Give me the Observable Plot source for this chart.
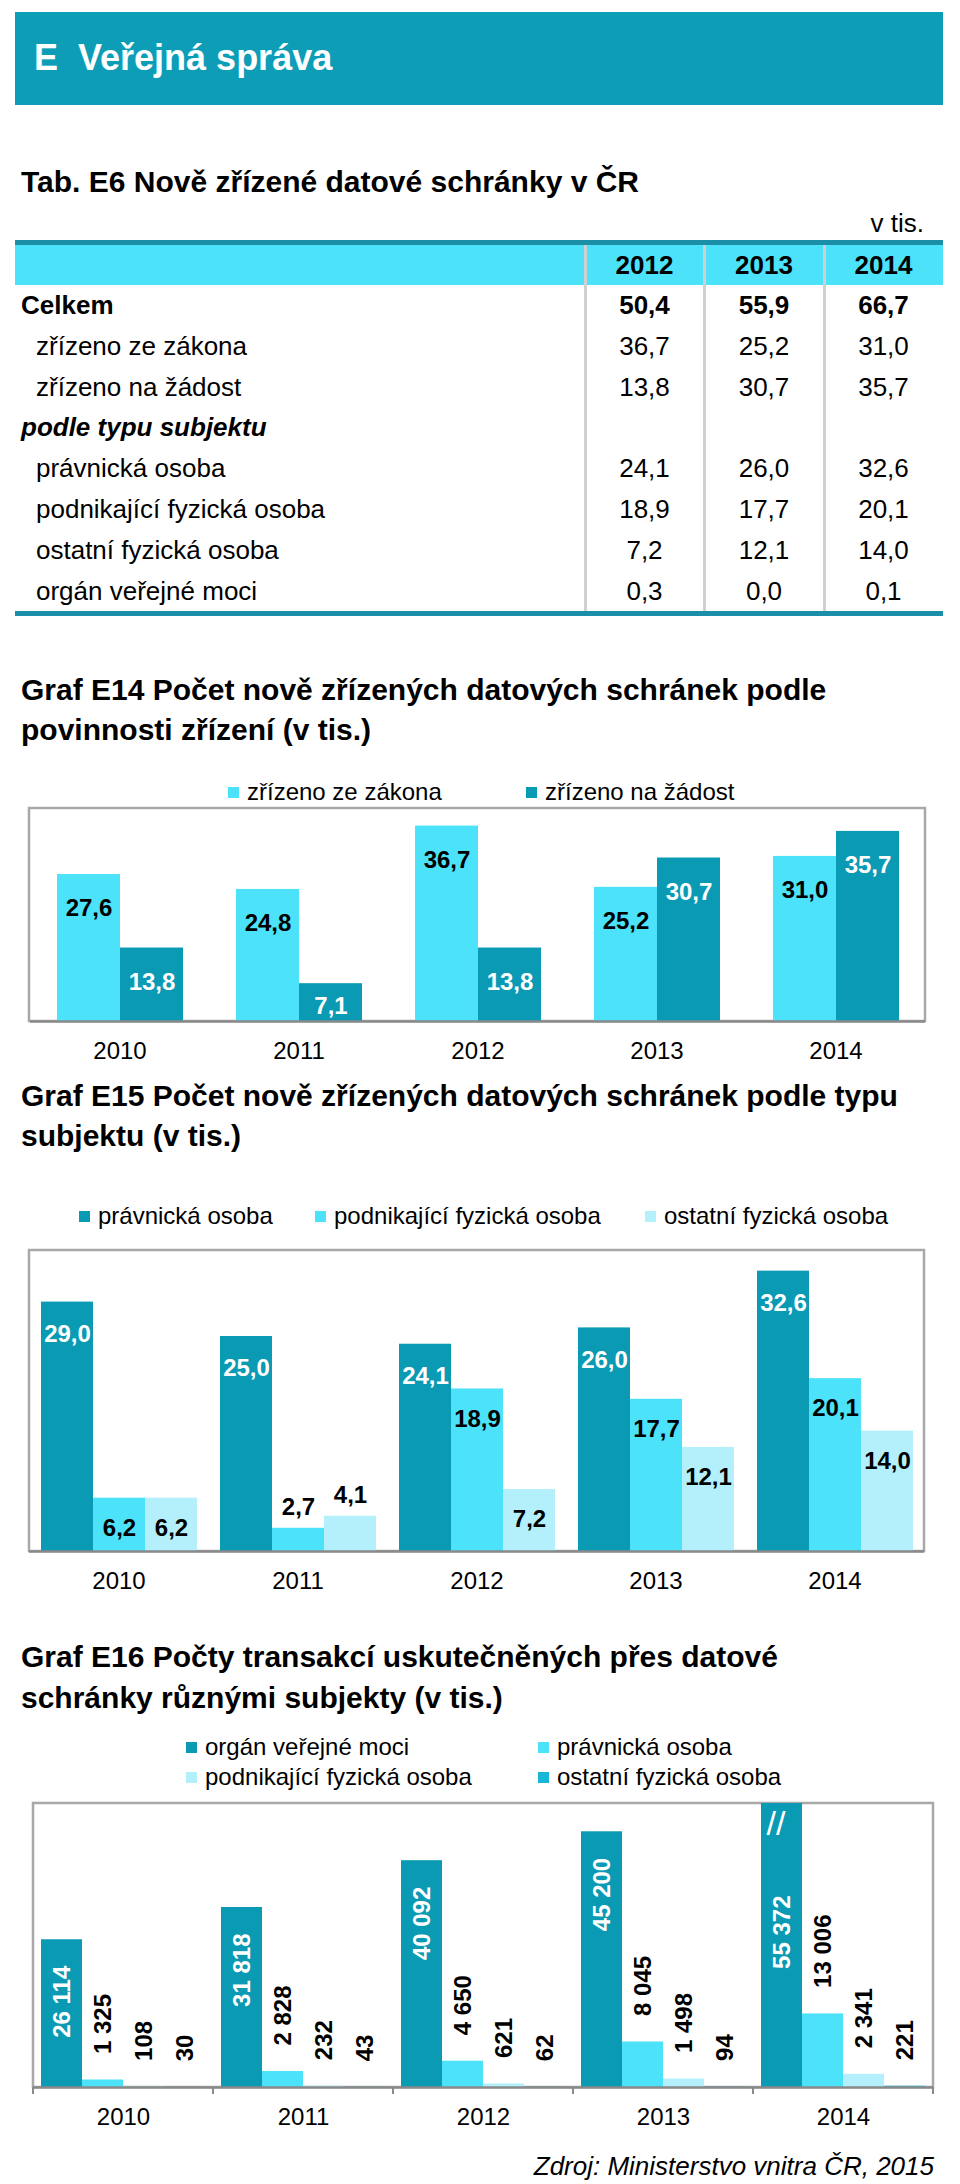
<!DOCTYPE html>
<html>
<head>
<meta charset="utf-8">
<script src="https://cdn.jsdelivr.net/npm/d3@7"></script>
<script src="https://cdn.jsdelivr.net/npm/@observablehq/plot@0.6"></script>
<style>
  html, body { margin: 0; padding: 0; background: #fff; }
  body { width: 960px; height: 2184px; position: relative; overflow: hidden;
         font-family: "Liberation Sans", Arial, Helvetica, sans-serif; color: #000; }
  .abs { position: absolute; white-space: pre; }
  .title { font-weight: bold; font-size: 30px; line-height: 40px; left: 21px; }
  .legitem { position: absolute; font-size: 24px; line-height: 30px; height: 30px; display: flex; align-items: center; white-space: pre; }
  .legitem i { display: inline-block; width: 11px; height: 11px; margin-right: 8px; }
  .chart { position: absolute; left: 0; }
</style>
</head>
<body>

<div class="abs" style="left:15px;top:12px;width:928px;height:93px;background:#0E9DB7;"></div>
<div class="abs" style="left:34px;top:36px;font-size:36px;line-height:44px;font-weight:bold;color:#fff;">E  Veřejná správa</div>

<div class="abs title" style="top:162px;">Tab. E6 Nově zřízené datové schránky v ČR</div>
<div class="abs" style="right:36px;top:208px;font-size:26px;line-height:30px;">v tis.</div>

<div id="tab" class="abs" style="left:15px;top:240px;width:928px;height:376px;"></div>

<div class="abs title" style="top:670px;">Graf E14 Počet nově zřízených datových schránek podle
povinnosti zřízení (v tis.)</div>
<div id="leg14"></div>
<div id="c14" class="chart" style="top:800px;"></div>

<div class="abs title" style="top:1076px;">Graf E15 Počet nově zřízených datových schránek podle typu
subjektu (v tis.)</div>
<div id="leg15"></div>
<div id="c15" class="chart" style="top:1242px;"></div>

<div class="abs title" style="top:1636px;line-height:41px;">Graf E16 Počty transakcí uskutečněných přes datové
schránky různými subjekty (v tis.)</div>
<div id="leg16"></div>
<div id="c16" class="chart" style="top:1795px;"></div>

<div class="abs" style="right:26px;top:2150px;font-size:26px;line-height:32px;font-style:italic;">Zdroj: Ministerstvo vnitra ČR, 2015</div>

<script>
// ---------------- DATA ----------------
// Table E6
const tabYears = ["2012", "2013", "2014"];
const tabLabels = ["Celkem", "zřízeno ze zákona", "zřízeno na žádost", "podle typu subjektu",
  "právnická osoba", "podnikající fyzická osoba", "ostatní fyzická osoba", "orgán veřejné moci"];
const tabKinds = ["total", "item", "item", "section", "item", "item", "item", "item"];
const tabValues = [
  [50.4, 55.9, 66.7],
  [36.7, 25.2, 31.0],
  [13.8, 30.7, 35.7],
  null,
  [24.1, 26.0, 32.6],
  [18.9, 17.7, 20.1],
  [7.2, 12.1, 14.0],
  [0.3, 0.0, 0.1]
];

// Charts
const years = ["2010", "2011", "2012", "2013", "2014"];

const e14Series = ["zřízeno ze zákona", "zřízeno na žádost"];
const e14Zakon  = [27.6, 24.8, 36.7, 25.2, 31.0];
const e14Zadost = [13.8, 7.1, 13.8, 30.7, 35.7];

const e15Series = ["právnická osoba", "podnikající fyzická osoba", "ostatní fyzická osoba"];
const e15Pravnicka    = [29.0, 25.0, 24.1, 26.0, 32.6];
const e15Podnikajici  = [6.2, 2.7, 18.9, 17.7, 20.1];
const e15Ostatni      = [6.2, 4.1, 7.2, 12.1, 14.0];

const e16Series = ["orgán veřejné moci", "právnická osoba", "podnikající fyzická osoba", "ostatní fyzická osoba"];
const e16Organ       = [26114, 31818, 40092, 45200, 55372];
const e16Pravnicka   = [1325, 2828, 4650, 8045, 13006];
const e16Podnikajici = [108, 232, 621, 1498, 2341];
const e16Ostatni     = [30, 43, 62, 94, 221];

// ---------------- STYLE ----------------
const FONT = '"Liberation Sans", Arial, Helvetica, sans-serif';
const TEAL = "#0A9AB4";
const CYAN = "#4BE2FA";
const PALE = "#B3F0FB";
const MID  = "#19B7D7";
const FRAME = "#A8A8A8";
const AXIS = "#8A8A8A";

const comma1 = v => d3.format(".1f")(v).replace(".", ",");
const loc = d3.formatLocale({decimal: ",", thousands: " ", grouping: [3], currency: ["", ""]});
const thousands = loc.format(",d");

// ---------------- TABLE ----------------
(function buildTable() {
  const tab = document.getElementById("tab");
  const W = 928;
  const colEdges = [570, 689, 809, W];
  const add = (html, css) => { const d = document.createElement("div"); d.style.cssText = css; d.innerHTML = html; tab.appendChild(d); return d; };
  add("", `position:absolute;left:0;top:0;width:${W}px;height:5px;background:#1A8FA7;`);
  add("", `position:absolute;left:0;top:5px;width:${W}px;height:40px;background:${CYAN};`);
  add("", `position:absolute;left:0;top:371px;width:${W}px;height:5px;background:#1A8FA7;`);
  for (let i = 0; i < 3; i++) {
    add("", `position:absolute;left:${colEdges[i] - 1}px;top:5px;width:3px;height:366px;background:#D0D0D0;`);
  }
  const colCenter = i => (colEdges[i] + colEdges[i + 1]) / 2;
  tabYears.forEach((y, i) => {
    add(y, `position:absolute;top:9px;left:${colCenter(i) - 60}px;width:120px;text-align:center;font-size:26px;line-height:32px;font-weight:bold;`);
  });
  tabLabels.forEach((lab, r) => {
    const cy = 65 + r * 40.8;
    const kind = tabKinds[r];
    const left = kind === "item" ? 21 : 6;
    const fw = kind === "item" ? "normal" : "bold";
    const fs = kind === "section" ? "italic" : "normal";
    add(lab, `position:absolute;left:${left}px;top:${cy - 16}px;font-size:26px;line-height:32px;font-weight:${fw};font-style:${fs};white-space:pre;`);
    if (tabValues[r]) {
      tabValues[r].forEach((v, i) => {
        add(comma1(v), `position:absolute;top:${cy - 16}px;left:${colCenter(i) - 60}px;width:120px;text-align:center;font-size:26px;line-height:32px;font-weight:${kind === "total" ? "bold" : "normal"};`);
      });
    }
  });
})();

// ---------------- LEGENDS ----------------
function legend(containerId, items) {
  const c = document.getElementById(containerId);
  items.forEach(({label, color, left, cy}) => {
    const d = document.createElement("div");
    d.className = "legitem";
    d.style.left = left + "px";
    d.style.top = (cy - 15) + "px";
    d.innerHTML = `<i style="background:${color}"></i><span>${label}</span>`;
    c.appendChild(d);
  });
}
legend("leg14", [
  {label: e14Series[0], color: CYAN, left: 228, cy: 792},
  {label: e14Series[1], color: TEAL, left: 526, cy: 792}
]);
legend("leg15", [
  {label: e15Series[0], color: TEAL, left: 79, cy: 1216},
  {label: e15Series[1], color: CYAN, left: 315, cy: 1216},
  {label: e15Series[2], color: PALE, left: 645, cy: 1216}
]);
legend("leg16", [
  {label: e16Series[0], color: TEAL, left: 186, cy: 1747},
  {label: e16Series[1], color: CYAN, left: 538, cy: 1747},
  {label: e16Series[2], color: PALE, left: 186, cy: 1777},
  {label: e16Series[3], color: MID,  left: 538, cy: 1777}
]);

// ---------------- HELPERS ----------------
function addFrame(svg, L) {
  const s = d3.select(svg);
  s.insert("rect", ":first-child")
    .attr("x", L.ml).attr("y", L.mt)
    .attr("width", L.W - L.ml - L.mr).attr("height", L.H - L.mt - L.mb)
    .attr("fill", "none").attr("stroke", FRAME).attr("stroke-width", 2.5);
}
function baseStyle() {
  return {fontFamily: FONT, fontSize: "24px", color: "#000", background: "none", overflow: "visible"};
}

// ---------------- E14 ----------------
const e14Data = years.flatMap((year, i) => [
  {year, series: e14Series[0], value: e14Zakon[i]},
  {year, series: e14Series[1], value: e14Zadost[i]}
]);
const L14 = {W: 960, H: 265, ml: 29, mr: 35, mt: 8, mb: 44};
const c14 = Plot.plot({
  width: L14.W, height: L14.H,
  marginLeft: L14.ml, marginRight: L14.mr, marginTop: L14.mt, marginBottom: L14.mb,
  style: baseStyle(),
  facet: {data: e14Data, x: "year"},
  fx: {domain: years, padding: 0, axis: "bottom", label: null, tickSize: 0, tickPadding: 20},
  x: {domain: e14Series, paddingInner: 0, paddingOuter: 0.4, axis: null},
  y: {domain: [0, 40], axis: null},
  color: {domain: e14Series, range: [CYAN, TEAL]},
  marks: [
    Plot.barY(e14Data, {x: "series", y: "value", fill: "series"}),
    Plot.ruleY([0], {stroke: AXIS, strokeWidth: 2.5}),
    Plot.text(e14Data, {filter: d => d.series === e14Series[0], x: "series", y: "value",
      text: d => comma1(d.value), dy: 34, fill: "#000", fontWeight: "bold", fontSize: 24}),
    Plot.text(e14Data, {filter: d => d.series === e14Series[1] && d.value >= 10, x: "series", y: "value",
      text: d => comma1(d.value), dy: 34, fill: "#fff", fontWeight: "bold", fontSize: 24}),
    Plot.text(e14Data, {filter: d => d.series === e14Series[1] && d.value < 10, x: "series", y: () => 0,
      text: d => comma1(d.value), dy: -15, fill: "#fff", fontWeight: "bold", fontSize: 24})
  ]
});
addFrame(c14, L14);
document.getElementById("c14").appendChild(c14);

// ---------------- E15 ----------------
const e15Data = years.flatMap((year, i) => [
  {year, series: e15Series[0], value: e15Pravnicka[i]},
  {year, series: e15Series[1], value: e15Podnikajici[i]},
  {year, series: e15Series[2], value: e15Ostatni[i]}
]);
const L15 = {W: 960, H: 354, ml: 29, mr: 36, mt: 8, mb: 45};
const c15 = Plot.plot({
  width: L15.W, height: L15.H,
  marginLeft: L15.ml, marginRight: L15.mr, marginTop: L15.mt, marginBottom: L15.mb,
  style: baseStyle(),
  facet: {data: e15Data, x: "year"},
  fx: {domain: years, padding: 0, axis: "bottom", label: null, tickSize: 0, tickPadding: 20},
  x: {domain: e15Series, paddingInner: 0, paddingOuter: 0.21, axis: null},
  y: {domain: [0, 35], axis: null},
  color: {domain: e15Series, range: [TEAL, CYAN, PALE]},
  marks: [
    Plot.barY(e15Data, {x: "series", y: "value", fill: "series"}),
    Plot.ruleY([0], {stroke: AXIS, strokeWidth: 2.5}),
    Plot.text(e15Data, {filter: d => d.series === e15Series[0], x: "series", y: "value",
      text: d => comma1(d.value), dy: 32, fill: "#fff", fontWeight: "bold", fontSize: 24}),
    Plot.text(e15Data, {filter: d => d.series !== e15Series[0] && d.value >= 5, x: "series", y: "value",
      text: d => comma1(d.value), dy: 30, fill: "#000", fontWeight: "bold", fontSize: 24}),
    Plot.text(e15Data, {filter: d => d.series !== e15Series[0] && d.value < 5, x: "series", y: "value",
      text: d => comma1(d.value), dy: -21, fill: "#000", fontWeight: "bold", fontSize: 24})
  ]
});
addFrame(c15, L15);
document.getElementById("c15").appendChild(c15);

// ---------------- E16 ----------------
const e16Data = years.flatMap((year, i) => [
  {year, series: e16Series[0], value: e16Organ[i]},
  {year, series: e16Series[1], value: e16Pravnicka[i]},
  {year, series: e16Series[2], value: e16Podnikajici[i]},
  {year, series: e16Series[3], value: e16Ostatni[i]}
]);
const Y16MAX = 50200;
const L16 = {W: 960, H: 337, ml: 33, mr: 27, mt: 8, mb: 45};
const c16 = Plot.plot({
  width: L16.W, height: L16.H,
  marginLeft: L16.ml, marginRight: L16.mr, marginTop: L16.mt, marginBottom: L16.mb,
  style: baseStyle(),
  facet: {data: e16Data, x: "year"},
  fx: {domain: years, padding: 0, axis: "bottom", label: null, tickSize: 0, tickPadding: 20},
  x: {domain: e16Series, paddingInner: 0, paddingOuter: 0.19, axis: null},
  y: {domain: [0, Y16MAX], clamp: true, axis: null},
  color: {domain: e16Series, range: [TEAL, CYAN, PALE, MID]},
  marks: [
    Plot.barY(e16Data, {x: "series", y: "value", fill: "series"}),
    Plot.ruleY([0], {stroke: AXIS, strokeWidth: 2.5}),
    Plot.text(e16Data, {filter: d => d.series === e16Series[0] && d.value <= Y16MAX, x: "series", y: "value",
      text: d => thousands(d.value), rotate: -90, textAnchor: "end", dy: 26,
      fill: "#fff", fontWeight: "bold", fontSize: 24}),
    Plot.text(e16Data, {filter: d => d.series === e16Series[0] && d.value > Y16MAX, x: "series", y: "value",
      text: d => thousands(d.value), rotate: -90, textAnchor: "end", dy: 92,
      fill: "#fff", fontWeight: "bold", fontSize: 24}),
    Plot.text(e16Data, {filter: d => d.series === e16Series[0] && d.value > Y16MAX, x: "series", y: "value",
      text: () => "//", dy: 21, dx: -6, fill: "#fff", fontSize: 34}),
    Plot.text(e16Data, {filter: d => d.series !== e16Series[0], x: "series", y: "value",
      text: d => thousands(d.value), rotate: -90, textAnchor: "start", dy: -26,
      fill: "#000", fontWeight: "bold", fontSize: 24})
  ]
});
addFrame(c16, L16);
(function ticks() {
  const s = d3.select(c16);
  const step = (L16.W - L16.ml - L16.mr) / years.length;
  const yb = L16.H - L16.mb;
  d3.range(years.length + 1).forEach(i => {
    const x = L16.ml + i * step;
    s.append("line").attr("x1", x).attr("x2", x).attr("y1", yb).attr("y2", yb + 7)
      .attr("stroke", AXIS).attr("stroke-width", 2);
  });
})();
document.getElementById("c16").appendChild(c16);
</script>
</body>
</html>
